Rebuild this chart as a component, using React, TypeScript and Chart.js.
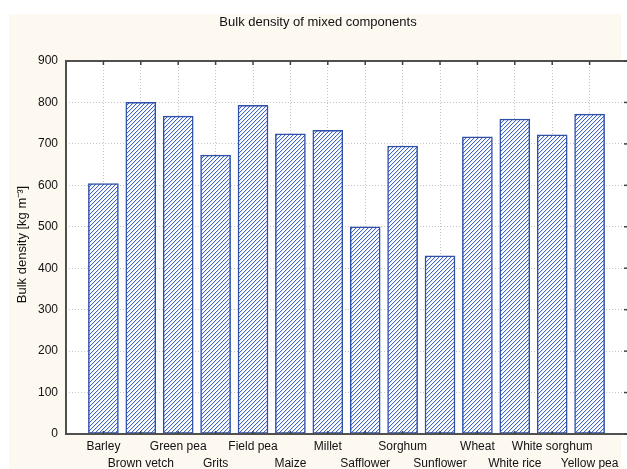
import React, { useEffect, useRef } from "react";
import { Chart, registerables } from "chart.js";

Chart.register(...registerables);

// Mixed components and their measured bulk density (kg/m³)
const categories = [
  "Barley",
  "Brown vetch",
  "Green pea",
  "Grits",
  "Field pea",
  "Maize",
  "Millet",
  "Safflower",
  "Sorghum",
  "Sunflower",
  "Wheat",
  "White rice",
  "White sorghum",
  "Yellow pea",
];
const bulkDensity = [604, 800, 767, 673, 793, 724, 733, 500, 695, 430, 717, 760, 722, 772];
const yTicks = [0, 100, 200, 300, 400, 500, 600, 700, 800, 900];

const TITLE = "Bulk density of mixed components";
const Y_TITLE = "Bulk density [kg m⁻³]";
const FONT = "'Liberation Sans', Arial, sans-serif";

function makeHatch(ctx: CanvasRenderingContext2D): CanvasPattern | string {
  const tile = document.createElement("canvas");
  tile.width = 4;
  tile.height = 4;
  const t = tile.getContext("2d");
  if (!t) return "#ffffff";
  t.fillStyle = "#ffffff";
  t.fillRect(0, 0, 4, 4);
  // "/" stripes with a soft edge
  t.fillStyle = "#dde4f5";
  for (let i = 0; i < 4; i++) t.fillRect(i, (4 - i) % 4, 1, 1);
  t.fillStyle = "#4466c6";
  for (let i = 0; i < 4; i++) t.fillRect(i, 3 - i, 1, 1);
  return ctx.createPattern(tile, "repeat") || "#ffffff";
}

const framePlugin = {
  id: "statFrame",
  beforeDraw(chart: any) {
    const { ctx, chartArea: a, width, height } = chart;
    ctx.save();
    ctx.fillStyle = "#ffffff";
    ctx.fillRect(0, 0, width, height);
    ctx.fillStyle = "#fdf8f0";
    ctx.fillRect(9, 14, 612, height - 14);
    ctx.fillStyle = "#ffffff";
    ctx.fillRect(a.left, a.top, a.right - a.left + 10, a.bottom - a.top);
    ctx.restore();
  },
  afterDatasetsDraw(chart: any) {
    const { ctx, chartArea: a, scales } = chart;
    ctx.save();
    ctx.strokeStyle = "#505050";
    ctx.lineWidth = 2;
    ctx.beginPath();
    ctx.moveTo(chart.width + 2, a.top);
    ctx.lineTo(a.left, a.top);
    ctx.lineTo(a.left, a.bottom);
    ctx.lineTo(chart.width + 2, a.bottom);
    ctx.stroke();
    // inner tick marks on top and bottom edges
    ctx.lineWidth = 1.5;
    ctx.strokeStyle = "#404040";
    categories.forEach((_, i) => {
      const x = scales.x.getPixelForValue(i + 1);
      ctx.beginPath();
      ctx.moveTo(x, a.top);
      ctx.lineTo(x, a.top + 4);
      ctx.moveTo(x, a.bottom);
      ctx.lineTo(x, a.bottom - 3);
      ctx.stroke();
    });
    yTicks.forEach((v) => {
      const y = scales.y.getPixelForValue(v);
      ctx.beginPath();
      ctx.moveTo(chart.width, y);
      ctx.lineTo(chart.width - 3, y);
      ctx.stroke();
    });
    ctx.restore();
  },
  afterDraw(chart: any) {
    const { ctx, chartArea: a } = chart;
    ctx.save();
    ctx.fillStyle = "#111111";
    ctx.font = `13px ${FONT}`;
    ctx.textAlign = "center";
    ctx.textBaseline = "middle";
    ctx.fillText(TITLE, 318, 22);
    ctx.translate(22, (a.top + a.bottom) / 2 - 3);
    ctx.rotate(-Math.PI / 2);
    ctx.fillText(Y_TITLE, 0, 0);
    ctx.restore();
  },
};

export default function App() {
  const ref = useRef<HTMLCanvasElement | null>(null);

  useEffect(() => {
    const canvas = ref.current;
    if (!canvas) return;
    const ctx = canvas.getContext("2d");
    if (!ctx) return;
    const hatch = makeHatch(ctx);

    const chart = new Chart(ctx, {
      type: "bar",
      data: {
        datasets: [
          {
            data: bulkDensity.map((v, i) => ({ x: i + 1, y: v })),
            backgroundColor: hatch as any,
            borderColor: "#2f50a6",
            borderWidth: 1.5,
            borderSkipped: false,
            barThickness: 30,
          },
        ],
      },
      options: {
        animation: false,
        responsive: false,
        layout: { padding: { top: 61, left: 0, right: 0, bottom: 0 } },
        plugins: {
          legend: { display: false },
          title: { display: false },
          tooltip: { enabled: false },
        },
        scales: {
          x: {
            type: "linear",
            min: 0,
            max: 15,
            offset: false,
            afterBuildTicks(scale: any) {
              scale.ticks = categories.map((_, i) => ({ value: i + 1 }));
            },
            afterFit(scale: any) {
              scale.height = 35;
              scale.paddingLeft = 0;
              scale.paddingRight = 0;
            },
            grid: { color: "#c4c4c4", drawTicks: false, lineWidth: 1, offset: false },
            border: { display: false, dash: [1, 2] },
            ticks: {
              autoSkip: false,
              maxRotation: 0,
              padding: 5,
              color: "#111111",
              font: { family: FONT, size: 12, lineHeight: 1.35 },
              callback(value: any) {
                const idx = Math.round(Number(value)) - 1;
                const name = categories[idx] ?? "";
                return idx % 2 === 0 ? [name, ""] : ["", name];
              },
            },
          },
          y: {
            min: 0,
            max: 900,
            afterBuildTicks(scale: any) {
              scale.ticks = yTicks.map((v) => ({ value: v }));
            },
            afterFit(scale: any) {
              scale.width = 66;
              scale.paddingTop = 0;
              scale.paddingBottom = 0;
            },
            grid: { color: "#c4c4c4", drawTicks: false, lineWidth: 1 },
            border: { display: false, dash: [1, 2] },
            ticks: {
              padding: 8,
              color: "#111111",
              font: { family: FONT, size: 12 },
            },
          },
        },
      },
      plugins: [framePlugin],
    });

    return () => chart.destroy();
  }, []);

  return (
    <div style={{ position: "fixed", left: 0, top: 0, width: 627, height: 469 }}>
      <canvas ref={ref} width={627} height={469} />
    </div>
  );
}
